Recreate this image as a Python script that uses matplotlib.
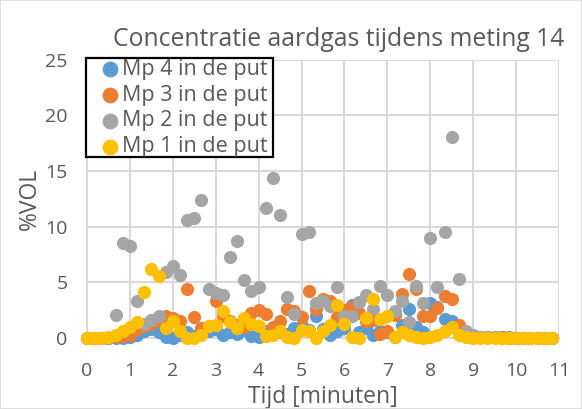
import matplotlib
matplotlib.use("Agg")
import matplotlib.pyplot as plt
from matplotlib.patches import Rectangle

# Measurement times in minutes (one reading every 10 seconds)
tijd = [i / 6 for i in range(66)]

mp4 = [0, 0, 0, 0, 0, 0, 0.1, 0.3, 0.6, 0.8, 0.5, 0.1, 0.0, 0.3, 0.5, 0.2,
       0.4, 0.6, 0.8, 0.3, 0.5, 0.4, 0.7, 0.2, 0.1, 0.6, 0.9, 0.5, 0.4, 0.9,
       1.1, 0.7, 2.0, 0.8, 0.3, 0.6, 0.9, 3.0, 0.5, 0.9, 0.3, 0.6, 0.5, 0.1,
       1.2, 2.6, 1.0, 0.5, 3.1, 2.75, 1.7, 1.5, 0.8, 0.3, 0.2, 0.1, 0.1, 0.05,
       0.05, 0.05, 0.0, 0.0, 0.0, 0.0, 0.0, 0.0]

mp3 = [0, 0, 0, 0, 0.1, 0.2, 0.3, 0.8, 1.1, 1.3, 1.6, 2.0, 1.8, 1.5, 4.4, 1.9,
       0.9, 1.1, 3.3, 2.0, 1.5, 1.2, 1.0, 2.2, 2.5, 2.15, 1.0, 1.5, 2.6, 2.4,
       1.9, 4.2, 2.6, 3.5, 3.3, 1.9, 2.5, 2.8, 2.2, 1.5, 1.6, 0.4, 0.6, 2.1,
       3.95, 5.75, 4.4, 2.0, 2.0, 2.7, 3.8, 3.5, 1.2, 0.4, 0.2, 0.1, 0.1, 0.05,
       0.05, 0.0, 0.0, 0.0, 0.0, 0.0, 0.0, 0.0]

mp2 = [0, 0, 0, 0, 2.1, 8.5, 8.3, 3.3, 1.3, 1.6, 2.0, 5.9, 6.5, 5.7, 10.6, 10.8,
       12.4, 4.4, 4.0, 3.85, 7.3, 8.7, 5.2, 4.2, 4.55, 11.7, 14.4, 11.0, 3.7,
       2.15, 9.3, 9.5, 3.1, 3.3, 2.9, 4.55, 2.0, 2.0, 3.26, 3.86, 2.6, 4.7,
       3.86, 2.4, 3.3, 1.4, 4.7, 3.1, 9.0, 4.55, 9.5, 18.0, 5.3, 0.6, 0.3, 0.1,
       0.05, 0.05, 0.0, 0.0, 0.0, 0.0, 0.0, 0.0, 0.0, 0.0]

mp1 = [0, 0, 0, 0.1, 0.3, 0.6, 1.0, 1.4, 4.1, 6.2, 5.6, 0.9, 1.5, 0.6, 0.0, 0.0,
       0.3, 1.1, 1.2, 2.4, 1.4, 0.9, 1.8, 1.3, 1.1, 0.2, 0.3, 0.6, 0.1, 0.0,
       0.7, 0.6, 0.0, 0.6, 1.2, 3.0, 1.3, 0.1, 0.0, 1.8, 3.5, 1.7, 2.0, 0.1,
       0.5, 0.3, 0.1, 0.0, 0.1, 0.3, 0.6, 1.0, 0.3, 0.05, 0, 0, 0, 0, 0, 0,
       0, 0, 0, 0, 0, 0]

series = [
    ("Mp 4 in de put", mp4, "#5B9BD5"),
    ("Mp 3 in de put", mp3, "#ED7D31"),
    ("Mp 2 in de put", mp2, "#A5A5A5"),
    ("Mp 1 in de put", mp1, "#FFC000"),
]

x_ticks = list(range(0, 12))
y_ticks = list(range(0, 30, 5))

plt.rcParams["font.family"] = ["Open Sans", "DejaVu Sans"]
text_color = "#595959"

W, H = 582, 409
fig = plt.figure(figsize=(W / 100, H / 100), dpi=100)
ax = fig.add_axes([87 / W, 1 - 338 / H, (559 - 87) / W, (338 - 59.5) / H])

for z, (label, values, color) in enumerate(series):
    ax.scatter(tijd, values, s=90, color=color, label=label, linewidths=0,
               zorder=3 + z, clip_on=False)

ax.set_xlim(0, 11)
ax.set_ylim(0, 25)
ax.set_xticks(x_ticks)
ax.set_yticks(y_ticks)
ax.tick_params(axis="both", length=0, labelsize=14, colors=text_color)
ax.tick_params(axis="x", pad=17)
ax.tick_params(axis="y", pad=14)
ax.grid(True, color="#D9D9D9", linewidth=1.5, zorder=0)
ax.set_axisbelow(True)
for side in ["top", "right"]:
    ax.spines[side].set_visible(False)
for side in ["left", "bottom"]:
    ax.spines[side].set_color("#D9D9D9")
    ax.spines[side].set_linewidth(1.5)

ax.set_title("Concentratie aardgas tijdens meting 14", fontsize=17.8,
             color=text_color, x=0.534, pad=10)
ax.set_xlabel("Tijd [minuten]", fontsize=16.5, color=text_color, labelpad=4)
ax.set_ylabel("%VOL", fontsize=16.5, color=text_color, labelpad=2)

# Legend without its own frame; the boxed area is drawn as a separate rectangle
leg = fig.legend(loc="upper left", bbox_to_anchor=(101.5 / W, 1 - 59 / H),
                 bbox_transform=fig.transFigure, fontsize=15.5, frameon=False,
                 borderpad=0.0, labelspacing=0.22, handletextpad=0.15,
                 handlelength=0.8, borderaxespad=0, markerscale=1.2)
leg.set_zorder(10)
for t in leg.get_texts():
    t.set_color(text_color)

fig.patches.append(Rectangle((86 / W, 1 - 157 / H), (273 - 86) / W, (157 - 58) / H,
                             transform=fig.transFigure, facecolor="white",
                             edgecolor="black", linewidth=1.6, zorder=9))

fig.patches.append(Rectangle((0, 0), 1, 1, transform=fig.transFigure,
                             fill=False, edgecolor="#D9D9D9", linewidth=1.2))

fig.savefig("out.png", dpi=100)
